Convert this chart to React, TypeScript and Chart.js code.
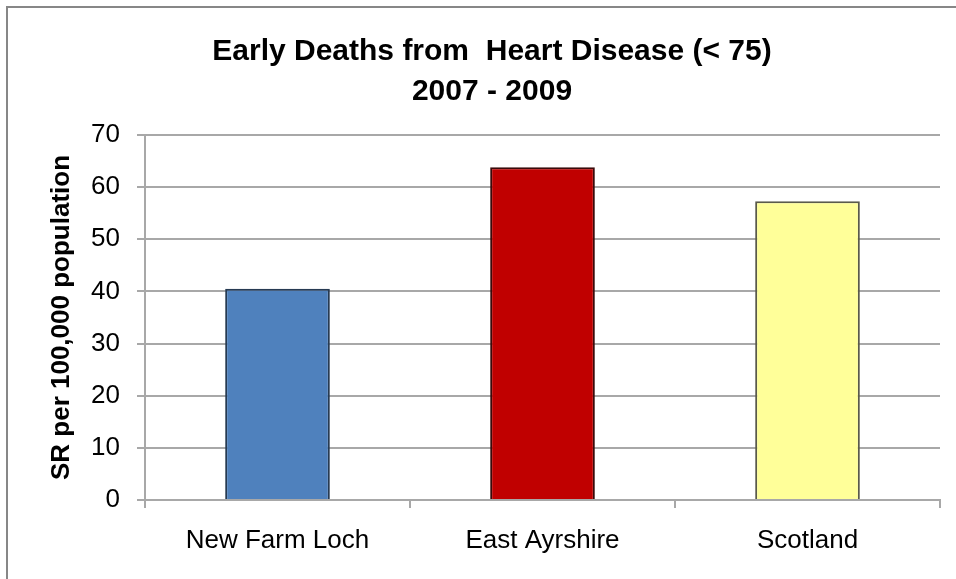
import React, { useEffect, useRef } from "react";
import { Chart, registerables } from "chart.js";

Chart.register(...registerables);

const categories = ["New Farm Loch", "East Ayrshire", "Scotland"];
const values = [40.5, 63.8, 57.3];
const barColors = ["#4f81bd", "#c00000", "#ffff99"];
const barBorders = ["#263a52", "#3a0a0a", "#5a5a4a"];
const titleLines = ["Early Deaths from  Heart Disease (< 75)", "2007 - 2009"];
const yAxisTitle = "SR per 100,000 population";
const yMin = 0;
const yMax = 70;
const yStep = 10;

export default function App() {
  const ref = useRef<HTMLCanvasElement | null>(null);

  useEffect(() => {
    if (!ref.current) return;
    const font = "'Liberation Sans', Arial, sans-serif";
    const chart = new Chart(ref.current, {
      type: "bar",
      data: {
        labels: categories,
        datasets: [
          {
            data: values,
            backgroundColor: barColors,
            borderColor: barBorders,
            borderWidth: 2,
            barPercentage: 0.395,
            categoryPercentage: 1,
          },
        ],
      },
      options: {
        animation: false,
        responsive: false,
        maintainAspectRatio: false,
        layout: { padding: { left: 44, right: 16, top: 0, bottom: 0 } },
        plugins: {
          legend: { display: false },
          tooltip: { enabled: false },
          title: {
            display: true,
            text: titleLines,
            color: "#000",
            font: { family: font, size: 30, weight: "bold", lineHeight: 40 / 30 },
            padding: { top: 32, bottom: 23 },
          },
        },
        scales: {
          x: {
            offset: true,
            grid: {
              display: true,
              offset: true,
              drawOnChartArea: false,
              drawTicks: true,
              tickLength: 8,
              color: "#a8a8a8",
              lineWidth: 2,
            },
            border: { display: true, color: "#a8a8a8", width: 2 },
            ticks: {
              color: "#000",
              font: { family: font, size: 26 },
              padding: 17,
              maxRotation: 0,
              autoSkip: false,
            },
            afterFit: (s: any) => {
              s.height = 79;
            },
          },
          y: {
            min: yMin,
            max: yMax,
            ticks: {
              stepSize: yStep,
              color: "#000",
              font: { family: font, size: 26 },
              padding: 17,
            },
            grid: {
              color: "#a8a8a8",
              lineWidth: 2,
              tickLength: 8,
              drawTicks: true,
            },
            border: { display: true, color: "#a8a8a8", width: 2 },
            title: {
              display: true,
              text: yAxisTitle,
              color: "#000",
              font: { family: font, size: 26, weight: "bold", lineHeight: 1.2 },
              padding: { top: 2.5, bottom: 0 },
            },
            afterFit: (s: any) => {
              s.width = 101;
            },
          },
        },
      },
    });
    return () => chart.destroy();
  }, []);

  return (
    <div
      style={{
        position: "absolute",
        left: 0,
        top: 0,
        width: 956,
        height: 579,
        overflow: "hidden",
        background: "#fff",
      }}
    >
      <div
        style={{
          position: "absolute",
          left: 6,
          top: 6,
          width: 2000,
          height: 2000,
          border: "2px solid #878787",
        }}
      />
      <canvas
        ref={ref}
        width={956}
        height={579}
        style={{ position: "absolute", left: 0, top: 0, width: 956, height: 579 }}
      />
    </div>
  );
}
